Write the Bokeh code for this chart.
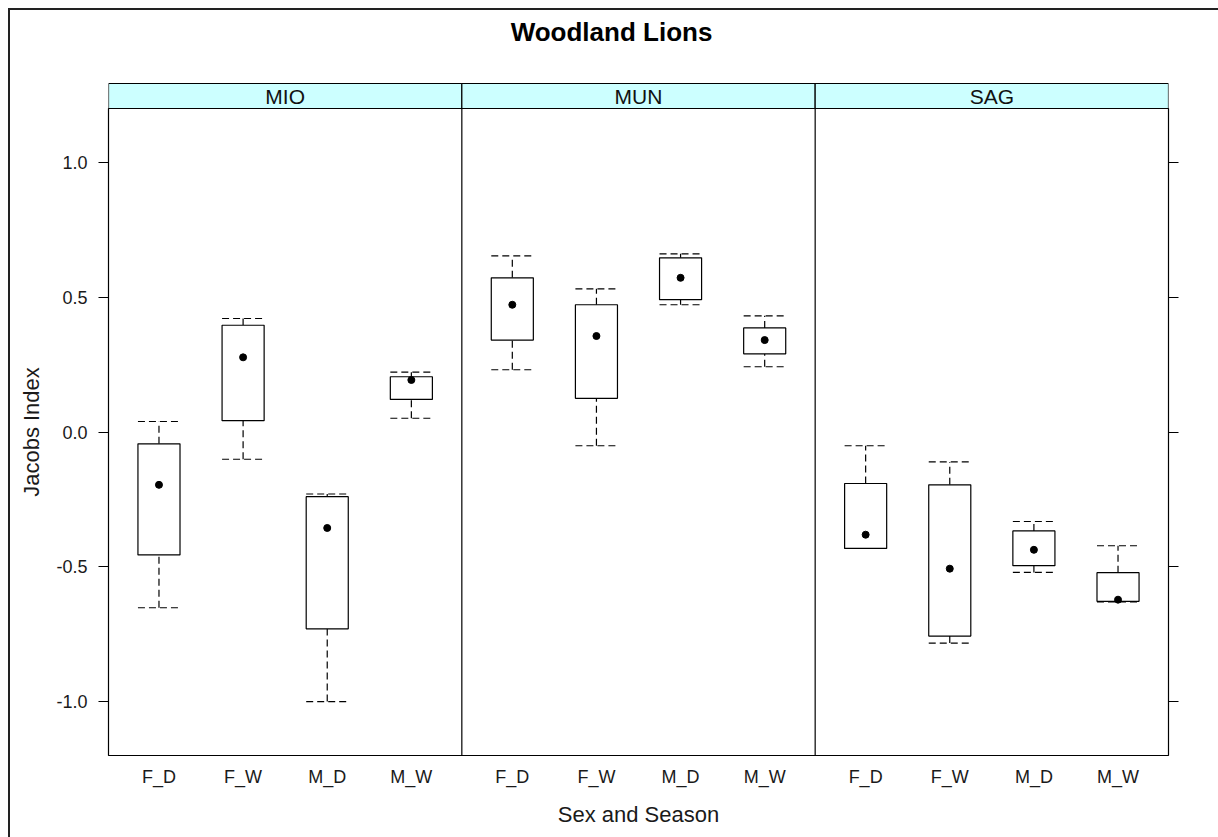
from bokeh.plotting import figure
from bokeh.layouts import column
from bokeh.models import Range1d, FixedTicker, LinearAxis, PrintfTickFormatter
from bokeh.embed import file_html
from bokeh.resources import INLINE
from bokeh.core.properties import value

# ---------------- data ----------------
sites = ["MIO", "MUN", "SAG"]
groups = ["F_D", "F_W", "M_D", "M_W"]
y_ticks = [-1.0, -0.5, 0.0, 0.5, 1.0]

lower = {
    "MIO": [-0.652, -0.101, -1.000, 0.051],
    "MUN": [0.231, -0.051, 0.472, 0.242],
    "SAG": [-0.432, -0.783, -0.521, -0.630],
}
q1 = {
    "MIO": [-0.456, 0.042, -0.730, 0.121],
    "MUN": [0.341, 0.125, 0.491, 0.290],
    "SAG": [-0.432, -0.757, -0.496, -0.628],
}
median = {
    "MIO": [-0.196, 0.277, -0.356, 0.193],
    "MUN": [0.472, 0.356, 0.572, 0.341],
    "SAG": [-0.381, -0.507, -0.437, -0.622],
}
q3 = {
    "MIO": [-0.044, 0.396, -0.240, 0.205],
    "MUN": [0.572, 0.472, 0.646, 0.386],
    "SAG": [-0.191, -0.196, -0.367, -0.522],
}
upper = {
    "MIO": [0.039, 0.421, -0.230, 0.222],
    "MUN": [0.653, 0.531, 0.661, 0.431],
    "SAG": [-0.051, -0.111, -0.332, -0.422],
}

# ---------------- layout constants ----------------
FONT = "Liberation Sans"
W = 1208
BL, BR = 98, 50
FRAME_W = W - BL - BR
X0 = 0.4
PW = len(groups) + 0.2          # panel width in x units
XMAX = X0 + PW * len(sites)
BOXW = 0.5
STRIP_PX = 25
STRIP_FIG_H = 98
DASH = "7 4"
LW = 1.2

xr = Range1d(X0, XMAX)

# positions
xs, lo, b1, md, b3, hi, tick_labels = [], [], [], [], [], [], {}
for k, s in enumerate(sites):
    for i, g in enumerate(groups):
        x = round(k * PW + i + 1, 3)
        xs.append(x)
        tick_labels[x] = g
        lo.append(lower[s][i]); b1.append(q1[s][i]); md.append(median[s][i])
        b3.append(q3[s][i]); hi.append(upper[s][i])

# ---------------- strip + title figure ----------------
st = figure(width=W, height=STRIP_FIG_H, x_range=xr,
            y_range=Range1d(0, STRIP_FIG_H / STRIP_PX),
            x_axis_type=None, y_axis_type=None,
            min_border_left=BL, min_border_right=BR,
            min_border_top=0, min_border_bottom=0,
            outline_line_color=None, output_backend="svg",
            toolbar_location=None)
st.background_fill_color = None
st.border_fill_color = None
lefts = [X0 + PW * k for k in range(len(sites))]
rights = [X0 + PW * (k + 1) for k in range(len(sites))]
st.quad(left=lefts, right=rights, bottom=0, top=1,
        fill_color="#CCFFFF", line_color="black", line_width=LW)
st.text(x=[(a + b) / 2 for a, b in zip(lefts, rights)], y=[0.5] * len(sites),
        text=sites, text_align="center", text_baseline="middle",
        text_font=value(FONT), text_font_size="21px", text_color="#111111")
title_x = X0 + (1202 / 2 - BL) / FRAME_W * (XMAX - X0)
st.text(x=[title_x], y=[3.08], text=["Woodland Lions"],
        text_align="center", text_baseline="alphabetic",
        text_font=value(FONT), text_font_size="26px",
        text_font_style="bold", text_color="#000000")

# ---------------- main panels figure ----------------
p = figure(width=W, height=729, x_range=xr, y_range=Range1d(-1.2, 1.2),
           x_axis_type=None, y_axis_type=None,
           min_border_left=BL, min_border_right=BR,
           min_border_top=0, min_border_bottom=82,
           output_backend="svg", toolbar_location=None)
p.outline_line_color = "black"
p.outline_line_width = LW
p.border_fill_color = None

# panel separators
seps = [X0 + PW * k for k in range(1, len(sites))]
p.segment(x0=seps, y0=[-1.2] * len(seps), x1=seps, y1=[1.2] * len(seps),
          line_color="black", line_width=LW)

# whiskers
p.segment(x0=xs, y0=b3, x1=xs, y1=hi, line_color="black", line_width=LW, line_dash=DASH)
p.segment(x0=xs, y0=lo, x1=xs, y1=b1, line_color="black", line_width=LW, line_dash=DASH)
p.segment(x0=[x - BOXW / 2 for x in xs], y0=hi, x1=[x + BOXW / 2 for x in xs], y1=hi,
          line_color="black", line_width=LW, line_dash=DASH)
p.segment(x0=[x - BOXW / 2 for x in xs], y0=lo, x1=[x + BOXW / 2 for x in xs], y1=lo,
          line_color="black", line_width=LW, line_dash=DASH)
# boxes
p.quad(left=[x - BOXW / 2 for x in xs], right=[x + BOXW / 2 for x in xs],
       bottom=b1, top=b3, fill_color="white", line_color="black", line_width=LW)
# medians
p.scatter(x=xs, y=md, size=7, color="black")

# axes
left = LinearAxis(ticker=FixedTicker(ticks=y_ticks),
                  formatter=PrintfTickFormatter(format="%.1f"),
                  axis_label="Jacobs Index")
right = LinearAxis(ticker=FixedTicker(ticks=y_ticks),
                   major_label_overrides={t: "" for t in y_ticks})
bottom = LinearAxis(ticker=FixedTicker(ticks=xs),
                    major_label_overrides=tick_labels,
                    axis_label="Sex and Season")
for ax in (left, right, bottom):
    ax.axis_line_color = None
    ax.minor_tick_line_color = None
    ax.major_tick_in = 0
    ax.major_tick_out = 10
    ax.major_tick_line_color = "black"
    ax.major_tick_line_width = LW
    ax.major_label_text_font = FONT
    ax.major_label_text_font_size = "18px"
    ax.major_label_text_color = "#1a1a1a"
    ax.axis_label_text_font = FONT
    ax.axis_label_text_font_size = "22px"
    ax.axis_label_text_font_style = "normal"
    ax.axis_label_text_color = "#1a1a1a"
left.major_label_standoff = 11
left.axis_label_standoff = 9
bottom.major_tick_out = 0
bottom.major_tick_line_color = None
bottom.major_label_standoff = 11
bottom.axis_label_standoff = 12
right.major_label_standoff = 0

p.add_layout(left, "left")
p.add_layout(right, "right")
p.add_layout(bottom, "below")

layout = column(st, p, spacing=0,
                styles={"margin-left": "8px", "margin-top": "8px",
                        "border-left": "2px solid #222222",
                        "border-top": "2px solid #222222"})

open("out.html", "w").write(file_html(layout, INLINE))
